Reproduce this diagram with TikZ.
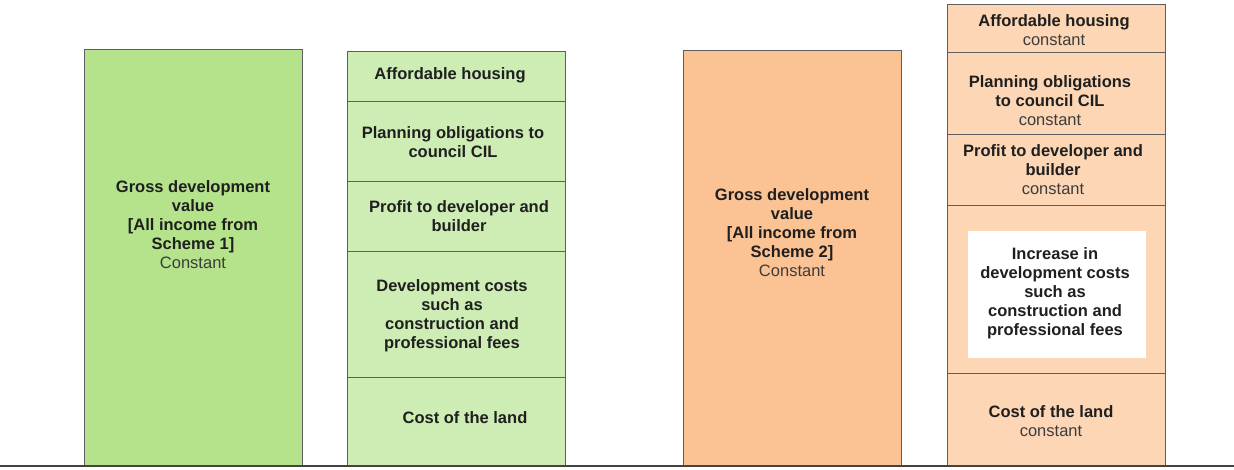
\documentclass[tikz,border=0pt]{standalone}
\usepackage{fontspec}
\setmainfont{Liberation Sans}
\usetikzlibrary{positioning}

\definecolor{gdvgreen}{RGB}{180,227,139}
\definecolor{costgreen}{RGB}{205,237,180}
\definecolor{gdvorange}{RGB}{251,194,147}
\definecolor{costorange}{RGB}{253,214,181}
\definecolor{edgegray}{RGB}{95,95,95}
\definecolor{notegray}{RGB}{60,60,60}

\tikzset{
	block/.style={draw=edgegray, line width=1pt, anchor=north west, inner sep=0pt, outer sep=0pt, minimum width=218pt},
	lbl/.style={align=center, font=\fontsize{16.5}{19}\selectfont\bfseries, text=black!88, inner sep=0pt},
}
\newcommand{\cnst}[1]{{\mdseries\color{notegray}#1}}

\begin{document}
\begin{tikzpicture}[x=1pt, y=-1pt]
			\useasboundingbox (0,0) rectangle (1234,469);

			% scheme 1
			\node	[block, fill=gdvgreen, minimum height=416pt]	(gdvA)	at	(84,49)	{};
			\node	[block, fill=costgreen, minimum height=50pt]	(ahA)	at	(347,51)	{};
			\node	[block, fill=costgreen, minimum height=80pt, below=0pt of ahA]	(poA)	{};
			\node	[block, fill=costgreen, minimum height=70pt, below=0pt of poA]	(pdA)	{};
			\node	[block, fill=costgreen, minimum height=126pt, below=0pt of pdA]	(dcA)	{};
			\node	[block, fill=costgreen, minimum height=88pt, below=0pt of dcA]	(clA)	{};

			\node	[lbl]	(gdvAtxt)	at	(193,225)	{Gross development\\value\\{[}All income from\\Scheme 1]\\\cnst{Constant}};
			\node	[lbl]	(ahAtxt)	at	(450,75)	{Affordable housing};
			\node	[lbl]	(poAtxt)	at	(453,142.5)	{Planning obligations to\\council CIL};
			\node	[lbl]	(pdAtxt)	at	(459,216.5)	{Profit to developer and\\builder};
			\node	[lbl]	(dcAtxt)	at	(452,315.5)	{Development costs\\such as\\construction and\\professional fees};
			\node	[lbl]	(clAtxt)	at	(465,418)	{Cost of the land};

			% scheme 2
			\node	[block, fill=gdvorange, minimum height=415pt]	(gdvB)	at	(683,50)	{};
			\node	[block, fill=costorange, minimum height=48pt]	(ahB)	at	(947,4)	{};
			\node	[block, fill=costorange, minimum height=82pt, below=0pt of ahB]	(poB)	{};
			\node	[block, fill=costorange, minimum height=71pt, below=0pt of poB]	(pdB)	{};
			\node	[block, fill=costorange, minimum height=168pt, below=0pt of pdB]	(dcB)	{};
			\node	[block, fill=costorange, minimum height=92pt, below=0pt of dcB]	(clB)	{};
			\node	[fill=white, anchor=north west, inner sep=0pt, minimum width=178pt, minimum height=127pt]	(incB)	at	(968,231)	{};

			\node	[lbl]	(gdvBtxt)	at	(792,233)	{Gross development\\value\\{[}All income from\\Scheme 2]\\\cnst{Constant}};
			\node	[lbl]	(ahBtxt)	at	(1054,30.5)	{Affordable housing\\\cnst{constant}};
			\node	[lbl]	(poBtxt)	at	(1050,101)	{Planning obligations\\to council CIL\\\cnst{constant}};
			\node	[lbl]	(pdBtxt)	at	(1053,169.5)	{Profit to developer and\\builder\\\cnst{constant}};
			\node	[lbl]	(incBtxt)	at	(1055,293)	{Increase in\\development costs\\such as\\construction and\\professional fees};
			\node	[lbl]	(clBtxt)	at	(1051,421.5)	{Cost of the land\\\cnst{constant}};

			% ground line
			\coordinate	(gl)	at	(0,466);
			\coordinate	(gr)	at	(1234,466);
			\draw	[line width=2pt, edgegray!70!black]	(gl) -- (gr);
\end{tikzpicture}
\end{document}
